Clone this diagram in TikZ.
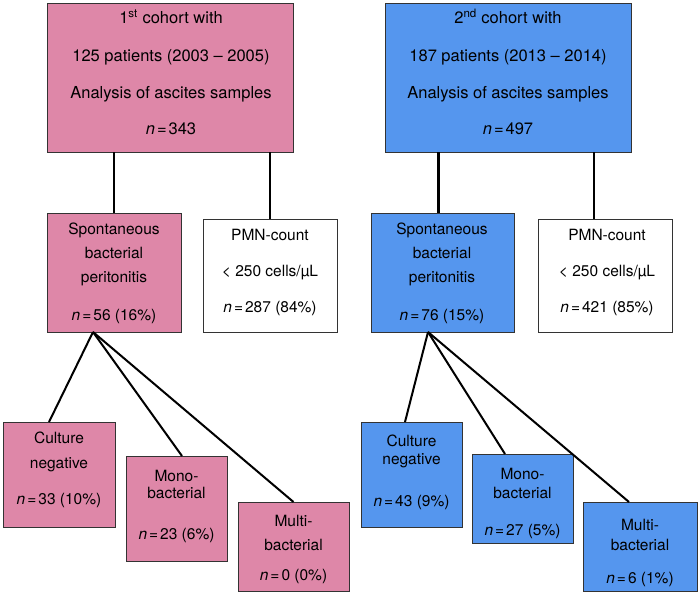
\documentclass[tikz,border=0pt]{standalone}
\usepackage{fontspec}
\setmainfont{TeX Gyre Heros}
\newcommand\nn{\textit{n}\kern2pt=\kern2pt}
\newcommand\mystrut[1]{\rule{0pt}{#1}}
\definecolor{pinkf}{HTML}{DE87A8}
\definecolor{bluef}{HTML}{5596EE}
\tikzset{
  box/.style={draw=black!80, line width=0.9pt, anchor=north west, inner sep=0pt, outer sep=0pt},
  pinkbox/.style={box, fill=pinkf},
  bluebox/.style={box, fill=bluef},
  whitebox/.style={box, fill=white},
  txt/.style={anchor=north, inner sep=0pt, align=center, text=black, font=\fontsize{15.5}{24}\selectfont},
  toptxt/.style={txt, font=\fontsize{16.5}{36.5}\selectfont},
  conn/.style={draw=black, line width=2pt},
  vconn/.style={conn, line width=2.5pt}
}
\begin{document}
\begin{tikzpicture}[x=1pt,y=-1pt]
\fill[white] (0,0) rectangle (700,594);
\useasboundingbox (0,0) rectangle (700,594);

% boxes
\node[pinkbox, minimum width=246pt, minimum height=149pt] (top1) at (47,3) {};
\node[bluebox, minimum width=246pt, minimum height=149pt] (top2) at (385,3) {};
\node[pinkbox, minimum width=134pt, minimum height=119pt] (sbp1) at (47,213) {};
\node[whitebox, minimum width=134pt, minimum height=113pt] (pmn1) at (203,219) {};
\node[bluebox, minimum width=143pt, minimum height=119pt] (sbp2) at (371,213) {};
\node[whitebox, minimum width=134pt, minimum height=113pt] (pmn2) at (538,219) {};
\node[pinkbox, minimum width=112pt, minimum height=105pt] (cn1) at (3,422) {};
\node[pinkbox, minimum width=101pt, minimum height=105pt] (mono1) at (126,456) {};
\node[pinkbox, minimum width=111pt, minimum height=89pt] (multi1) at (238,502) {};
\node[bluebox, minimum width=101pt, minimum height=105pt] (cn2) at (361,422) {};
\node[bluebox, minimum width=101pt, minimum height=89pt] (mono2) at (472,454) {};
\node[bluebox, minimum width=114pt, minimum height=89pt] (multi2) at (583,502) {};

% texts
\node[toptxt] (top1t) at (171,5.5) {\mystrut{18pt}1\textsuperscript{st} cohort with\\[1.5pt]
  125 patients (2003 – 2005)\\ Analysis of ascites samples\\ \nn 343};
\node[toptxt] (top2t) at (508,5.5) {\mystrut{18pt}2\textsuperscript{nd} cohort with\\[1.5pt]
  187 patients (2013 – 2014)\\ Analysis of ascites samples\\ \nn 497};
\node[txt] (sbp1t) at (114,220) {\mystrut{14pt}Spontaneous\\ bacterial\\ peritonitis\\[14pt] \nn 56 (16\%)};
\node[txt] (sbp2t) at (442,220) {\mystrut{14pt}Spontaneous\\ bacterial\\ peritonitis\\[14pt] \nn 76 (15\%)};
\node[txt] (pmn1t) at (270,226) {\mystrut{14pt}PMN-count\\[12pt] < 250 cells/µL\\[12pt] \nn 287 (84\%)};
\node[txt] (pmn2t) at (607,226) {\mystrut{14pt}PMN-count\\[12pt] < 250 cells/µL\\[12pt] \nn 421 (85\%)};
\node[txt] (cn1t) at (59,429) {\mystrut{14pt}Culture\\[1pt] negative\\[12pt] \nn 33 (10\%)};
\node[txt] (mono1t) at (176.5,467) {\mystrut{14pt}Mono-\\[-7pt] bacterial\\[17pt] \nn 23 (6\%)};
\node[txt] (multi1t) at (293.5,512) {\mystrut{14pt}Multi-\\[0pt] bacterial\\[6pt] \nn 0 (0\%)};
\node[txt] (cn2t) at (411.5,432) {\mystrut{14pt}Culture\\[-6pt] negative\\[18pt] \nn 43 (9\%)};
\node[txt] (mono2t) at (522.5,465) {\mystrut{14pt}Mono-\\[-5pt] bacterial\\[13pt] \nn 27 (5\%)};
\node[txt] (multi2t) at (640,516) {\mystrut{14pt}Multi-\\[-4pt] bacterial\\[9pt] \nn 6 (1\%)};

% connectors
\coordinate (s2in) at ([xshift=-4pt]sbp2.north);
\coordinate (p2in) at ([xshift=-11pt]pmn2.north);
\draw[vconn] (top1.south -| sbp1.north) -- (sbp1.north);
\draw[vconn] (top1.south -| pmn1.north) -- (pmn1.north);
\draw[vconn] (top2.south -| s2in) -- (s2in);
\draw[vconn] (top2.south -| p2in) -- (p2in);

\coordinate (f1) at ([xshift=-21pt]sbp1.south);
\coordinate (f2) at ([xshift=-14.5pt]sbp2.south);
\draw[conn] (f1) -- ([xshift=-10pt]cn1.north);
\draw[conn] (f1) -- ([xshift=5.5pt]mono1.north);
\draw[conn] (f1) -- (multi1.north);
\draw[conn] (f2) -- ([xshift=-6.5pt]cn2.north);
\draw[conn] (f2) -- ([xshift=-17.5pt]mono2.north);
\draw[conn] (f2) -- ([xshift=-11pt]multi2.north);
\end{tikzpicture}
\end{document}
